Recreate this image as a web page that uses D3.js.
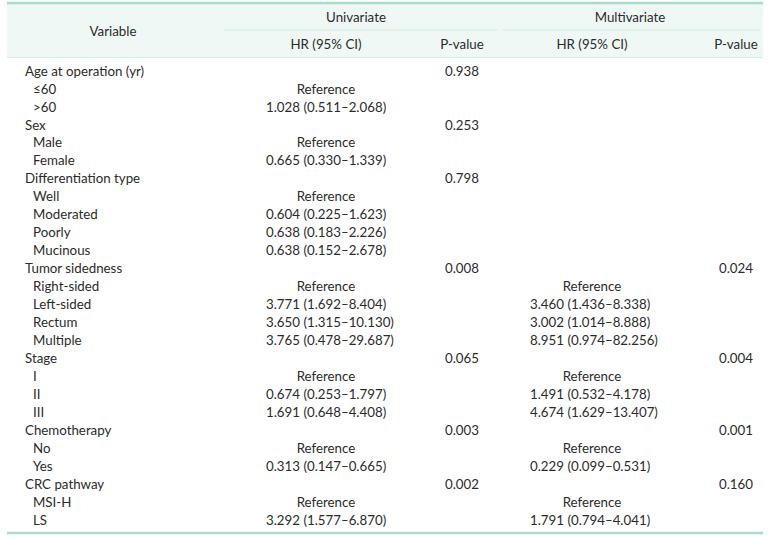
<!DOCTYPE html>
<html>
<head>
<meta charset="utf-8">
<script src="https://cdn.jsdelivr.net/npm/d3@7"></script>
<style>
  body { margin: 0; background: #fff; }
  svg text { font-family: Lato, "Open Sans", sans-serif; font-size: 13.3px; fill: #2b2b2b; }
</style>
</head>
<body>
<svg width="770" height="537"></svg>
<script>
var svg = d3.select("svg"),
    width = +svg.attr("width"),
    height = +svg.attr("height");

// row labels, level 0 = group heading, 1 = category
var labels = ["Age at operation (yr)", "\u226460", ">60",
  "Sex", "Male", "Female",
  "Differentiation type", "Well", "Moderated", "Poorly", "Mucinous",
  "Tumor sidedness", "Right-sided", "Left-sided", "Rectum", "Multiple",
  "Stage", "I", "II", "III",
  "Chemotherapy", "No", "Yes",
  "CRC pathway", "MSI-H", "LS"];
var levels = [0,1,1, 0,1,1, 0,1,1,1,1, 0,1,1,1,1, 0,1,1,1, 0,1,1, 0,1,1];

var uniHR = ["", "Reference", "1.028 (0.511\u20132.068)",
  "", "Reference", "0.665 (0.330\u20131.339)",
  "", "Reference", "0.604 (0.225\u20131.623)", "0.638 (0.183\u20132.226)", "0.638 (0.152\u20132.678)",
  "", "Reference", "3.771 (1.692\u20138.404)", "3.650 (1.315\u201310.130)", "3.765 (0.478\u201329.687)",
  "", "Reference", "0.674 (0.253\u20131.797)", "1.691 (0.648\u20134.408)",
  "", "Reference", "0.313 (0.147\u20130.665)",
  "", "Reference", "3.292 (1.577\u20136.870)"];
var uniP = ["0.938", "", "",
  "0.253", "", "",
  "0.798", "", "", "", "",
  "0.008", "", "", "", "",
  "0.065", "", "", "",
  "0.003", "", "",
  "0.002", "", ""];
var multiHR = ["", "", "",
  "", "", "",
  "", "", "", "", "",
  "", "Reference", "3.460 (1.436\u20138.338)", "3.002 (1.014\u20138.888)", "8.951 (0.974\u201382.256)",
  "", "Reference", "1.491 (0.532\u20134.178)", "4.674 (1.629\u201313.407)",
  "", "Reference", "0.229 (0.099\u20130.531)",
  "", "Reference", "1.791 (0.794\u20134.041)"];
var multiP = ["", "", "",
  "", "", "",
  "", "", "", "", "",
  "0.024", "", "", "", "",
  "0.004", "", "", "",
  "0.001", "", "",
  "0.160", "", ""];

var groupHeaders = ["Univariate", "Multivariate"];
var colHeaders = ["HR (95% CI)", "P-value", "HR (95% CI)", "P-value"];

var left = 7, right = 763;
var lineColor = "#a9dccb", headBg = "#eff8f5";

// column centres, and left edges for the HR numbers
var colCenters = [326, 462, 592, 736];
var colLefts = [266, null, 530, null];
var groupCenters = [356, 630];
var groupSpan = [[224, 497], [503, 760]];

// rows
var y = d3.scaleLinear().domain([0, labels.length - 1]).range([71, 520]);

// header
svg.append("rect").attr("x", left).attr("y", 3).attr("width", right - left).attr("height", 54)
  .attr("fill", headBg);
svg.append("line").attr("x1", left).attr("x2", right).attr("y1", 3).attr("y2", 3)
  .attr("stroke", lineColor).attr("stroke-width", 2.5);
svg.append("line").attr("x1", left).attr("x2", right).attr("y1", 57.5).attr("y2", 57.5)
  .attr("stroke", "#d3ede4").attr("stroke-width", 1);
svg.append("line").attr("x1", left).attr("x2", right).attr("y1", 533).attr("y2", 533)
  .attr("stroke", lineColor).attr("stroke-width", 2.5);

svg.append("text").attr("x", 113).attr("y", 31).attr("dy", "0.35em")
  .attr("text-anchor", "middle").text("Variable");

svg.selectAll(".ghead").data(groupHeaders).enter().append("text")
  .attr("class", "ghead")
  .attr("x", function(d, i) { return groupCenters[i]; })
  .attr("y", 17).attr("dy", "0.35em")
  .attr("text-anchor", "middle").text(function(d) { return d; });

svg.selectAll(".gline").data(groupSpan).enter().append("line")
  .attr("class", "gline")
  .attr("x1", function(d) { return d[0]; }).attr("x2", function(d) { return d[1]; })
  .attr("y1", 30).attr("y2", 30)
  .attr("stroke", "#cdeade").attr("stroke-width", 1);

svg.selectAll(".chead").data(colHeaders).enter().append("text")
  .attr("class", "chead")
  .attr("x", function(d, i) { return colCenters[i]; })
  .attr("y", 44).attr("dy", "0.35em")
  .attr("text-anchor", "middle").text(function(d) { return d; });

// body
var rows = svg.append("g").selectAll("g")
  .data(labels).enter().append("g")
  .attr("transform", function(d, i) { return "translate(0," + y(i) + ")"; });

rows.append("text")
  .attr("x", function(d, i) { return levels[i] ? 33 : 25; })
  .attr("dy", "0.35em")
  .text(function(d) { return d; });

var cols = [uniHR, uniP, multiHR, multiP];
cols.forEach(function(arr, c) {
  rows.append("text")
    .attr("x", function(d, i) {
      return (colLefts[c] !== null && arr[i] !== "Reference") ? colLefts[c] : colCenters[c];
    })
    .attr("dy", "0.35em")
    .attr("text-anchor", function(d, i) {
      return (colLefts[c] !== null && arr[i] !== "Reference") ? "start" : "middle";
    })
    .text(function(d, i) { return arr[i]; });
});
</script>
</body>
</html>
